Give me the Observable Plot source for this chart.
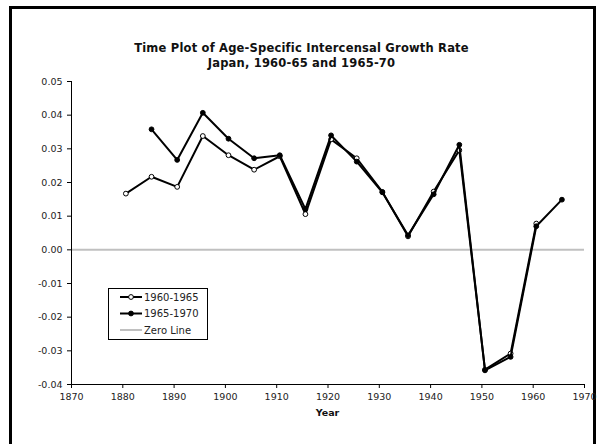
<!DOCTYPE html>
<html>
<head>
<meta charset="utf-8">
<script src="https://cdn.jsdelivr.net/npm/d3@7"></script>
<script src="https://cdn.jsdelivr.net/npm/@observablehq/plot@0.6"></script>
<style>
  html, body { margin: 0; padding: 0; background: #fff; }
  #wrap { position: relative; width: 600px; height: 444px; overflow: hidden; font-family: "DejaVu Sans", sans-serif; }
  #frame { position: absolute; left: 9px; top: 6px; width: 587px; height: 460px; border: 3px solid #000; box-sizing: border-box; }
  #title { position: absolute; left: 0; width: 603px; top: 41px; text-align: center; font-weight: bold; font-size: 11.5px; letter-spacing: 0.2px; line-height: 15px; color: #111; }
  #xlabel { position: absolute; left: 71px; width: 513px; top: 407px; text-align: center; font-weight: bold; font-size: 9.5px; color: #111; }
  #chart { position: absolute; left: 0; top: 0; }
  #legend { position: absolute; left: 108px; top: 288px; width: 100px; height: 52px; border: 1px solid #000; box-sizing: border-box; background: #fff; }
</style>
</head>
<body>
<div id="wrap">
  <div id="frame"></div>
  <div id="chart"></div>
  <div id="title">Time Plot of Age-Specific Intercensal Growth Rate<br>Japan, 1960-65 and 1965-70</div>
  <div id="xlabel">Year</div>
  <div id="legend"></div>
</div>
<script>
// ---- data ----
const years6065 = [1880.6, 1885.6, 1890.6, 1895.6, 1900.6, 1905.6, 1910.6, 1915.6, 1920.6, 1925.6, 1930.6, 1935.6, 1940.6, 1945.6, 1950.6, 1955.6, 1960.6];
const rates6065 = [0.0167, 0.0217, 0.0187, 0.0338, 0.0281, 0.0238, 0.0278, 0.0106, 0.0328, 0.0272, 0.0172, 0.0040, 0.0173, 0.0296, -0.0356, -0.0308, 0.0078];
const years6570 = [1885.6, 1890.6, 1895.6, 1900.6, 1905.6, 1910.6, 1915.6, 1920.6, 1925.6, 1930.6, 1935.6, 1940.6, 1945.6, 1950.6, 1955.6, 1960.6, 1965.6];
const rates6570 = [0.0358, 0.0267, 0.0407, 0.0330, 0.0272, 0.0281, 0.0121, 0.0340, 0.0262, 0.0171, 0.0043, 0.0165, 0.0312, -0.0358, -0.0318, 0.0070, 0.0149];
const zeroLine = [0];
const xTicks = [1870, 1880, 1890, 1900, 1910, 1920, 1930, 1940, 1950, 1960, 1970];
const yTicks = [-0.04, -0.03, -0.02, -0.01, 0.00, 0.01, 0.02, 0.03, 0.04, 0.05];
const seriesNames = ["1960-1965", "1965-1970", "Zero Line"];

const d6065 = years6065.map((x, i) => ({x, y: rates6065[i]}));
const d6570 = years6570.map((x, i) => ({x, y: rates6570[i]}));

const chart = Plot.plot({
  width: 600,
  height: 444,
  marginLeft: 71,
  marginRight: 16,
  marginTop: 81,
  marginBottom: 60,
  style: {fontFamily: "DejaVu Sans, sans-serif", fontSize: "9.5px", color: "#000", background: "transparent", overflow: "visible"},
  x: {domain: [1870, 1970], label: null},
  y: {domain: [-0.04, 0.05], label: null},
  marks: [
    Plot.ruleY(zeroLine, {stroke: "#c0c0c0", strokeWidth: 2}),
    Plot.ruleX([1870], {stroke: "#000", strokeWidth: 1}),
    Plot.ruleY([-0.04], {stroke: "#000", strokeWidth: 1}),
    Plot.axisX({ticks: xTicks, tickFormat: d => String(d), tickSize: 4, tickPadding: 5, label: null, fill: "#222"}),
    Plot.axisY({ticks: yTicks, tickFormat: d => d.toFixed(2), tickSize: 4, tickPadding: 5, label: null, fill: "#222"}),
    Plot.line(d6065, {x: "x", y: "y", stroke: "#000", strokeWidth: 2}),
    Plot.dot(d6065, {x: "x", y: "y", r: 2.4, fill: "#fff", stroke: "#000", strokeWidth: 1}),
    Plot.line(d6570, {x: "x", y: "y", stroke: "#000", strokeWidth: 2}),
    Plot.dot(d6570, {x: "x", y: "y", r: 2.4, fill: "#000", stroke: "#000", strokeWidth: 1})
  ]
});
document.getElementById("chart").appendChild(chart);

// ---- legend ----
const lg = d3.select("#legend").append("svg").attr("width", 98).attr("height", 50)
  .style("font-family", "DejaVu Sans, sans-serif").style("font-size", "10px");
const rowsY = [8, 24.5, 41];
const styles = [
  {stroke: "#000", sw: 2, dotFill: "#fff"},
  {stroke: "#000", sw: 2, dotFill: "#000"},
  {stroke: "#c0c0c0", sw: 2, dotFill: null}
];
seriesNames.forEach((name, i) => {
  const g = lg.append("g").attr("transform", `translate(0,${rowsY[i]})`);
  g.append("line").attr("x1", 11).attr("x2", 33).attr("y1", 0).attr("y2", 0)
    .attr("stroke", styles[i].stroke).attr("stroke-width", styles[i].sw);
  if (styles[i].dotFill) {
    g.append("circle").attr("cx", 22).attr("cy", 0).attr("r", 2.4)
      .attr("fill", styles[i].dotFill).attr("stroke", "#000").attr("stroke-width", 1);
  }
  g.append("text").attr("x", 35).attr("y", 0).attr("dy", "0.35em").attr("fill", "#222").text(name);
});
</script>
</body>
</html>
